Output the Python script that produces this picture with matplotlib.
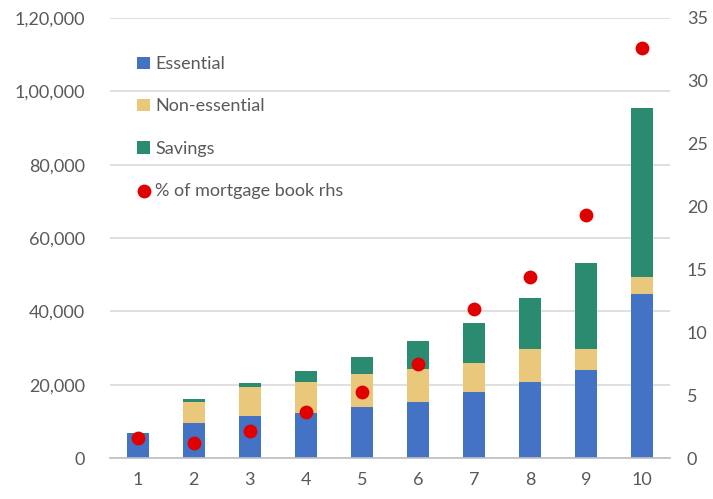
import numpy as np
import matplotlib.pyplot as plt
from matplotlib.ticker import FuncFormatter
plt.rcParams.update({'font.size': 13, 'font.family': ['Lato', 'DejaVu Sans']})

# data
deciles = [1, 2, 3, 4, 5, 6, 7, 8, 9, 10]
essential = [6500, 9500, 11500, 12300, 14000, 15300, 18000, 20800, 24000, 44700]
non_essential = [0, 5800, 7900, 8400, 8900, 9000, 7900, 8900, 5700, 4700]
savings = [300, 800, 1100, 3100, 4600, 7700, 11000, 14000, 23500, 46100]
pct_mortgage = [1.6, 1.2, 2.15, 3.7, 5.25, 7.5, 11.85, 14.4, 19.3, 32.6]

c_ess = '#4472C4'
c_non = '#E9C77B'
c_sav = '#2A8B70'
c_pct = '#E00000'
grey = '#595959'

x = np.array(deciles)
ess = np.array(essential)
non = np.array(non_essential)
sav = np.array(savings)

fig = plt.figure(figsize=(7.13, 4.99), dpi=100)
ax = fig.add_axes([0.154, 0.082, 0.786, 0.882])
w = 0.4
ax.bar(x, ess, w, color=c_ess, label='Essential', zorder=2)
ax.bar(x, non, w, bottom=ess, color=c_non, label='Non-essential', zorder=2)
ax.bar(x, sav, w, bottom=ess + non, color=c_sav, label='Savings', zorder=2)

ax.set_xlim(0.5, 10.5)
ax.set_ylim(0, 120000)
ax.set_yticks(np.arange(0, 120001, 20000))
ax.set_xticks(x)


def indian(v, pos):
    v = int(v)
    if v >= 100000:
        return '{},{:02d},{:03d}'.format(v // 100000, (v // 1000) % 100, v % 1000)
    return '{:,}'.format(v)


ax.yaxis.set_major_formatter(FuncFormatter(indian))
ax.grid(axis='y', color='#D9D9D9', lw=1.2, zorder=0)
for s in ['top', 'left', 'right']:
    ax.spines[s].set_visible(False)
ax.spines['bottom'].set_color('#BFBFBF')
ax.spines['bottom'].set_linewidth(1.2)
ax.tick_params(length=0, colors=grey, labelsize=13)
ax.tick_params(axis='y', pad=18)
ax.tick_params(axis='x', pad=10)

ax2 = ax.twinx()
ax2.set_ylim(0, 35)
ax2.set_yticks(np.arange(0, 36, 5))
ax2.scatter(x, pct_mortgage, s=80, color=c_pct, zorder=3,
            label='% of mortgage book rhs')
for s in ax2.spines.values():
    s.set_visible(False)
ax2.tick_params(length=0, colors=grey, labelsize=13, pad=12)

h1, l1 = ax.get_legend_handles_labels()
h2, l2 = ax2.get_legend_handles_labels()
leg = ax2.legend(h1 + h2, l1 + l2, loc='upper left', bbox_to_anchor=(0.02, 0.95),
                 frameon=False, labelspacing=1.45, handlelength=0.7,
                 handleheight=0.7, handletextpad=0.3, fontsize=13)
for t in leg.get_texts():
    t.set_color(grey)

plt.savefig('out.png', dpi=100)
